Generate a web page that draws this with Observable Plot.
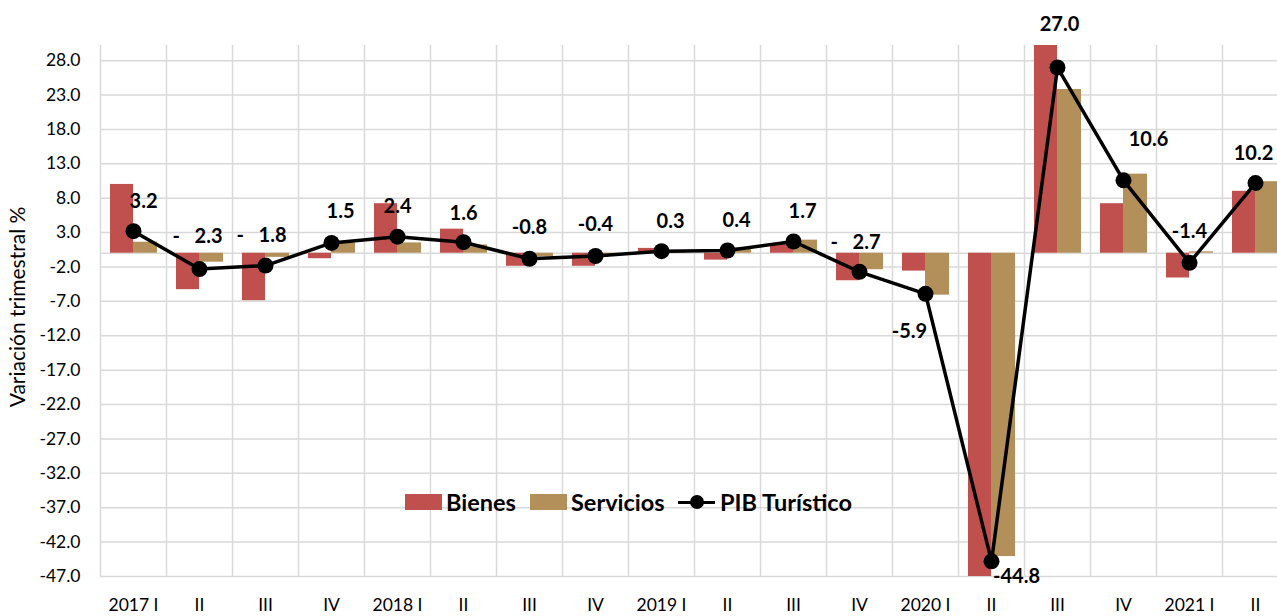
<!DOCTYPE html>
<html>
<head>
<meta charset="utf-8">
<script src="https://cdn.jsdelivr.net/npm/d3@7"></script>
<script src="https://cdn.jsdelivr.net/npm/@observablehq/plot@0.6"></script>
<style>
  html, body { margin: 0; padding: 0; background: #fff; overflow: hidden; }
  #wrap { position: relative; width: 1277px; height: 616px; font-family: Lato, "Open Sans", sans-serif; }
  .item { position: absolute; top: 488px; display: flex; align-items: center; font-weight: bold; font-size: 23.5px; color: #000; white-space: nowrap; }
  .sw { display: inline-block; width: 37px; height: 16px; margin-right: 4px; }
  .ln { position: relative; display: inline-block; width: 37px; height: 16px; margin-right: 5px; }
  .ln::before { content: ""; position: absolute; left: 0; right: 0; top: 6.5px; height: 3px; background: #000; }
  .ln::after { content: ""; position: absolute; left: 12px; top: 1px; width: 14px; height: 14px; border-radius: 50%; background: #000; }
</style>
</head>
<body>
<div id="wrap">
  <div id="chart"></div>
  <span class="item" style="left:405px"><span class="sw" style="background:#C0504D"></span>Bienes</span>
  <span class="item" style="left:530px"><span class="sw" style="background:#B38F5A"></span>Servicios</span>
  <span class="item" style="left:678px"><span class="ln"></span>PIB Turístico</span>
</div>
<script>
const quarters = ["2017 I","II","III","IV","2018 I","II ","III ","IV ","2019 I","II  ","III  ","IV  ","2020 I","II   ","III   ","IV   ","2021 I","II    "];
const bienes    = [10.0, -5.3, -6.9, -0.8, 7.2, 3.5, -1.9, -1.9, 0.7, -1.0, 1.4, -4.0, -2.6, -47.0, 31.5, 7.2, -3.6, 9.0];
const servicios = [1.6, -1.3, -0.6, 1.5, 1.5, 1.2, -0.5, -0.3, 0.2, 0.8, 1.9, -2.4, -6.1, -44.1, 23.8, 11.5, 0.2, 10.4];
const pib       = [3.2, -2.3, -1.8, 1.5, 2.4, 1.6, -0.8, -0.4, 0.3, 0.4, 1.7, -2.7, -5.9, -44.8, 27.0, 10.6, -1.4, 10.2];
const pibLabels = ["3.2","-   2.3","-   1.8","1.5","2.4","1.6","-0.8","-0.4","0.3","0.4","1.7","-   2.7","-5.9","-44.8","27.0","10.6","-1.4","10.2"];
const yTicks = [28, 23, 18, 13, 8, 3, -2, -7, -12, -17, -22, -27, -32, -37, -42, -47];

// label nudges (layout only)
const labelDx = [10, -2, -4, 9, 0, 0, 0, 0, 9, 9, 9, -4, -16, 25, 2, 25, 0, -2];
const labelDy = [-30, -32, -30, -31, -30, -29, -31, -31, -30, -30, -30, -29, 38, 15, -43, -41, -31, -29];

const data = quarters.map((q, i) => ({q, bienes: bienes[i], servicios: servicios[i], pib: pib[i], label: pibLabels[i], dx: labelDx[i], dy: labelDy[i]}));

const grid = "#d9d9d9";
const bw = 66;

const chart = Plot.plot({
  width: 1277,
  height: 616,
  marginTop: 45,
  marginBottom: 40,
  marginLeft: 100,
  marginRight: 0,
  style: {fontFamily: "Lato, 'Open Sans', sans-serif", background: "#fff", overflow: "visible"},
  x: {type: "band", domain: quarters, range: [100, 100 + 18 * bw], padding: 0},
  y: {domain: [-47, 30.2]},
  marks: [
    Plot.ruleY(yTicks, {stroke: grid, strokeWidth: 1.5}),
    Plot.ruleY([0], {stroke: grid, strokeWidth: 1.5}),
    Plot.ruleX(quarters, {x: d => d, dx: -bw / 2, y1: -47, y2: 30.2, stroke: grid, strokeWidth: 1.5}),
    Plot.barY(data, {x: "q", y: "bienes", fill: "#C0504D", insetLeft: 10, insetRight: 33, clip: true}),
    Plot.barY(data, {x: "q", y: "servicios", fill: "#B38F5A", insetLeft: 33, insetRight: 9, clip: true}),
    Plot.line(data, {x: "q", y: "pib", stroke: "#000", strokeWidth: 3.5}),
    Plot.dot(data, {x: "q", y: "pib", r: 8, fill: "#000"}),
    ...data.map(d => Plot.text([d], {x: "q", y: "pib", text: "label", dx: d.dx, dy: d.dy, fontSize: 20, fontWeight: "bold", fill: "#000"})),
    Plot.axisY({ticks: yTicks, tickFormat: d => d.toFixed(1), tickSize: 0, tickPadding: 20, fontSize: 17.5, label: null}),
    Plot.text(["Variación trimestral %"], {frameAnchor: "left", textAnchor: "middle", rotate: -90, dx: -82, dy: -4, fontSize: 21, fill: "#000"}),
    Plot.axisX({tickSize: 0, tickPadding: 22, fontSize: 17.5, label: null, tickFormat: d => d.trim()})
  ]
});
document.getElementById("chart").appendChild(chart);
</script>
</body>
</html>
